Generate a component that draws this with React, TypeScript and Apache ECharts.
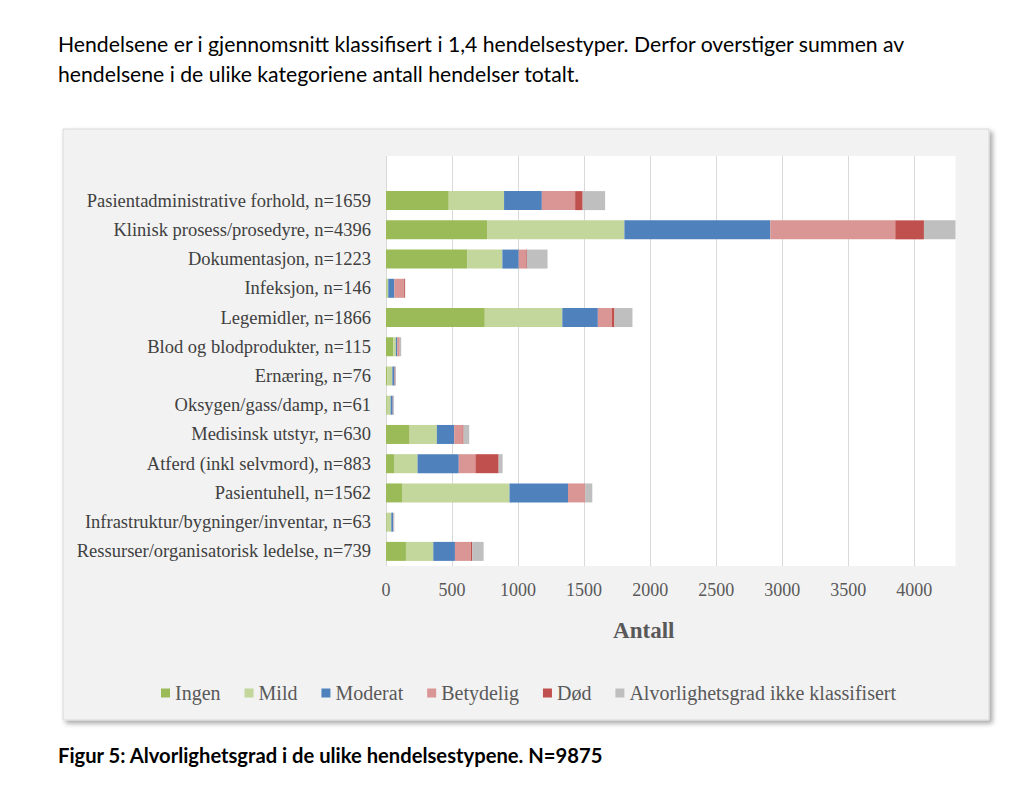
import React, { useEffect, useRef } from "react";
import * as echarts from "echarts";

const categories = [
  "Pasientadministrative forhold, n=1659",
  "Klinisk prosess/prosedyre, n=4396",
  "Dokumentasjon, n=1223",
  "Infeksjon, n=146",
  "Legemidler, n=1866",
  "Blod og blodprodukter, n=115",
  "Ernæring, n=76",
  "Oksygen/gass/damp, n=61",
  "Medisinsk utstyr, n=630",
  "Atferd (inkl selvmord), n=883",
  "Pasientuhell, n=1562",
  "Infrastruktur/bygninger/inventar, n=63",
  "Ressurser/organisatorisk ledelse, n=739",
];

const ingen = [475, 765, 617, 5, 748, 55, 10, 5, 179, 65, 121, 5, 151];
const mild = [419, 1040, 264, 12, 587, 20, 38, 30, 206, 174, 814, 35, 207];
const moderat = [286, 1105, 124, 46, 269, 10, 16, 16, 131, 312, 443, 15, 164];
const betydelig = [252, 946, 55, 72, 106, 15, 2, 2, 63, 126, 128, 1, 121];
const dod = [57, 217, 6, 8, 20, 3, 2, 1, 8, 176, 2, 1, 10];
const ikkeKlassifisert = [170, 323, 157, 3, 136, 12, 8, 7, 43, 30, 54, 6, 86];

const seriesNames = [
  "Ingen",
  "Mild",
  "Moderat",
  "Betydelig",
  "Død",
  "Alvorlighetsgrad ikke klassifisert",
];
const seriesColors = ["#9bbb59", "#c3d69b", "#4f81bd", "#d99694", "#c0504d", "#bfbfbf"];
const seriesData = [ingen, mild, moderat, betydelig, dod, ikkeKlassifisert];

const axisMax = 4312;
const axisInterval = 500;

const headingLines = [
  "Hendelsene er i gjennomsnitt klassifisert i 1,4 hendelsestyper. Derfor overstiger summen av",
  "hendelsene i de ulike kategoriene antall hendelser totalt.",
];
const caption = "Figur 5: Alvorlighetsgrad i de ulike hendelsestypene. N=9875";

const SERIF = "'Liberation Serif', 'DejaVu Serif', serif";
const SANS = "Lato, 'Open Sans', 'Liberation Sans', sans-serif";

export default function App() {
  const ref = useRef<HTMLDivElement>(null);

  useEffect(() => {
    if (!ref.current) return;
    const chart = echarts.init(ref.current, null, { renderer: "svg" });

    const gridLeft = 386;
    const gridRight = 1024 - 955.5;

    chart.setOption({
      animation: false,
      backgroundColor: "#ffffff",
      graphic: [
        {
          type: "rect",
          z: -10,
          shape: { x: 63, y: 129, width: 926, height: 591 },
          style: {
            fill: "#f2f2f2",
            stroke: "#d9d9d9",
            lineWidth: 1,
            shadowBlur: 5,
            shadowOffsetX: 3,
            shadowOffsetY: 3,
            shadowColor: "rgba(0,0,0,0.35)",
          },
        },
        {
          type: "text",
          x: 58,
          y: 44,
          style: {
            text: headingLines[0],
            font: `21.2px ${SANS}`,
            fill: "#000000",
            verticalAlign: "middle",
          },
        },
        {
          type: "text",
          x: 58,
          y: 74,
          style: {
            text: headingLines[1],
            font: `21.2px ${SANS}`,
            fill: "#000000",
            verticalAlign: "middle",
          },
        },
        {
          type: "text",
          x: 58,
          y: 755,
          style: {
            text: caption,
            font: `bold 20.2px ${SANS}`,
            fill: "#000000",
            verticalAlign: "middle",
          },
        },
      ],
      grid: [
        {
          left: gridLeft,
          right: gridRight,
          top: 186,
          bottom: 791 - 566,
          show: true,
          backgroundColor: "#ffffff",
          borderWidth: 0,
        },
        {
          left: gridLeft,
          right: gridRight,
          top: 156,
          height: 30,
          show: true,
          backgroundColor: "#ffffff",
          borderWidth: 0,
        },
      ],
      legend: {
        left: 156,
        top: 678,
        itemWidth: 9,
        itemHeight: 9,
        itemGap: 24,
        icon: "rect",
        textStyle: { fontFamily: SERIF, fontSize: 20, color: "#595959" },
        data: seriesNames,
      },
      xAxis: [
        {
          gridIndex: 0,
          type: "value",
          min: 0,
          max: axisMax,
          interval: axisInterval,
          axisLine: { show: false },
          axisTick: { show: false },
          axisLabel: {
            fontFamily: SERIF,
            fontSize: 18,
            color: "#595959",
            margin: 15,
            showMaxLabel: false,
            formatter: (v: number) => String(v),
          },
          splitLine: {
            show: true,
            showMaxLine: false,
            lineStyle: { color: "#d9d9d9", width: 1 },
          },
          name: "Antall",
          nameLocation: "middle",
          nameGap: 53,
          nameTextStyle: {
            fontFamily: SERIF,
            fontSize: 23,
            fontWeight: "bold",
            color: "#595959",
            padding: [0, 54, 0, 0],
          },
        },
        {
          gridIndex: 1,
          type: "value",
          min: 0,
          max: axisMax,
          interval: axisInterval,
          axisLine: { show: false },
          axisTick: { show: false },
          axisLabel: { show: false },
          splitLine: {
            show: true,
            showMaxLine: false,
            lineStyle: { color: "#d9d9d9", width: 1 },
          },
        },
      ],
      yAxis: [
        {
          gridIndex: 0,
          type: "category",
          inverse: true,
          data: categories,
          axisLine: { show: false },
          axisTick: { show: false },
          splitLine: { show: false },
          axisLabel: {
            fontFamily: SERIF,
            fontSize: 18.5,
            color: "#404040",
            margin: 15,
          },
        },
        {
          gridIndex: 1,
          type: "value",
          min: 0,
          max: 1,
          show: false,
          splitLine: { show: false },
        },
      ],
      series: seriesNames.map((name, i) => ({
        name,
        type: "bar",
        stack: "total",
        xAxisIndex: 0,
        yAxisIndex: 0,
        barWidth: 19,
        clip: true,
        itemStyle: { color: seriesColors[i] },
        emphasis: { disabled: true },
        data: seriesData[i],
      })),
    });

    return () => {
      chart.dispose();
    };
  }, []);

  return (
    <div
      ref={ref}
      style={{ position: "absolute", left: 0, top: 0, width: 1024, height: 791 }}
    />
  );
}
